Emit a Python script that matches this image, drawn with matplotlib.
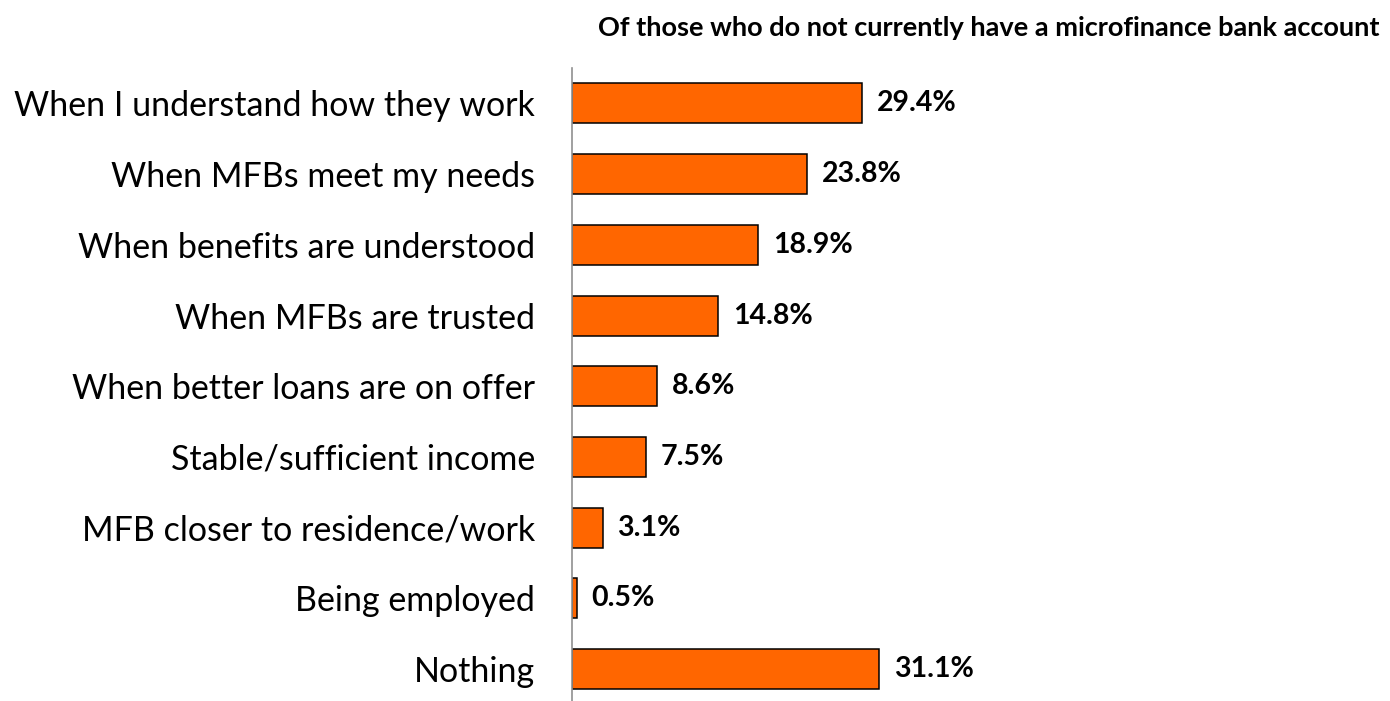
import matplotlib
matplotlib.use("Agg")
from matplotlib import pyplot as plt

# reasons given, top to bottom
labels = [
    "When I understand how they work",
    "When MFBs meet my needs",
    "When benefits are understood",
    "When MFBs are trusted",
    "When better loans are on offer",
    "Stable/sufficient income",
    "MFB closer to residence/work",
    "Being employed",
    "Nothing",
]
values = [29.4, 23.8, 18.9, 14.8, 8.6, 7.5, 3.1, 0.5, 31.1]
title = "Of those who do not currently have a microfinance bank account"

plt.rcParams['font.family'] = ['Lato', 'DejaVu Sans']

fig = plt.figure(figsize=(13.9, 7.01), dpi=100)
ax = fig.add_axes([572 / 1390, 0, 818 / 1390, 633 / 701])

pos = list(range(len(labels)))
ax.barh(pos, values, height=0.565, color="#FF6600", edgecolor="black", linewidth=1.1)

for p, v in zip(pos, values):
    ax.text(v + 1.5, p, f"{v:.1f}%", va="center", ha="left",
            fontsize=20.5, fontweight="bold")

ax.set_yticks(pos)
ax.set_yticklabels(labels, fontsize=24.5)
ax.tick_params(axis="y", length=0, pad=26.5)
ax.set_xticks([])
ax.set_xlim(0, 82.9)
ax.set_ylim(8.45, -0.5)

for s in ["top", "right", "bottom"]:
    ax.spines[s].set_visible(False)
ax.spines["left"].set_color("#909090")
ax.spines["left"].set_linewidth(1.2)

fig.text(1380 / 1390, 1 - 28 / 701, title, ha="right", va="center",
         fontsize=19.5, fontweight="bold")

fig.savefig("out.png", dpi=100)
